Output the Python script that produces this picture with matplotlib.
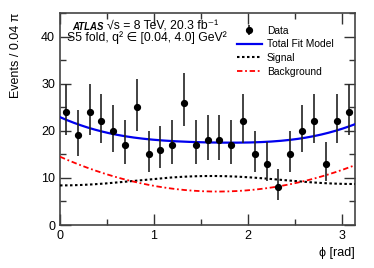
import numpy as np
import matplotlib
matplotlib.use("Agg")
import matplotlib.pyplot as plt
from matplotlib.ticker import MultipleLocator

plt.rcParams['font.family'] = ['Liberation Sans', 'DejaVu Sans']

# ---- data ----
n_bins = 25
counts = [24, 19, 24, 22, 20, 17, 25, 15, 16, 17, 26, 17, 18,
          18, 17, 22, 15, 13, 8, 15, 20, 22, 13, 22, 24]

# fit model parameters
sig_coef = [9.475, -0.15, -0.925]      # s0 + s1 cos(phi) + s2 cos(2 phi)
bkg_vertex = [1.68, 7.1, 2.62]          # phi_min, b_min, curvature

edges = np.linspace(0, np.pi, n_bins + 1)
centers = 0.5 * (edges[:-1] + edges[1:])
counts = np.array(counts, dtype=float)

# Garwood (Poisson 68%) intervals via Wilson-Hilferty chi2 approximation
def chi2_q(k, z):
    return k * (1 - 2 / (9 * k) + z * np.sqrt(2 / (9 * k))) ** 3
z = 1.0
hi = 0.5 * chi2_q(2 * counts + 2, z) - counts
lo = counts - 0.5 * chi2_q(2 * counts, -z)

phi = np.linspace(0, np.pi, 300)
signal = sig_coef[0] + sig_coef[1] * np.cos(phi) + sig_coef[2] * np.cos(2 * phi)
background = bkg_vertex[1] + bkg_vertex[2] * (phi - bkg_vertex[0]) ** 2
total = signal + background

fig = plt.figure(figsize=(3.74, 2.68), dpi=100)
ax = fig.add_axes([60/374, 1-225/268, 295/374, 212/268])

h_data = ax.errorbar(centers, counts, yerr=[lo, hi], fmt='o', color='black', ecolor='#222222',
                     markersize=4.2, elinewidth=1.2, capsize=0, label='Data', zorder=5)
h_tot, = ax.plot(phi, total, color='#0000ee', lw=1.6, label='Total Fit Model', zorder=4)
h_sig, = ax.plot(phi, signal, color='black', lw=1.5, ls=(0, (1.2, 1.2)), label='Signal', zorder=3)
h_bkg, = ax.plot(phi, background, color='#ff0000', lw=1.3, ls=(0, (3, 1.5, 1, 1.5)),
                 label='Background', zorder=3)

ax.set_xlim(0, np.pi)
ax.set_ylim(0, 45)
ax.xaxis.set_major_locator(MultipleLocator(1))
ax.xaxis.set_minor_locator(MultipleLocator(0.5))
ax.yaxis.set_major_locator(MultipleLocator(10))
ax.yaxis.set_minor_locator(MultipleLocator(5))
ax.tick_params(which='both', direction='in', top=True, right=True, labelsize=9,
               color='#333333')
ax.tick_params(which='major', length=8, width=1)
ax.tick_params(which='minor', length=4, width=1)
for s in ax.spines.values():
    s.set_color('#444444')
    s.set_linewidth(1.2)

ax.set_xlabel('ϕ [rad]', fontsize=9, loc='right')
ax.set_ylabel('Events / 0.04 π', fontsize=9, loc='top')
ax.yaxis.set_label_coords((22 - 60) / 295, 1.0)

fam = ['Liberation Sans', 'DejaVu Sans']
fig.text(72/374, 1-29.5/268, 'ATLAS', fontsize=6.9, fontweight='bold', fontstyle='italic',
         va='baseline', family=fam)
fig.text(107/374, 1-29.5/268, '√s = 8 TeV, 20.3 fb⁻¹', fontsize=8.8, va='baseline', family=fam)
fig.text(67/374, 1-41.5/268, 'S5 fold, q² ∈ [0.04, 4.0] GeV²', fontsize=8.8, va='baseline', family=fam)

leg = ax.legend([h_data, h_tot, h_sig, h_bkg], ['Data', 'Total Fit Model', 'Signal', 'Background'],
                loc='upper left', bbox_to_anchor=(237/374, 1-25.5/268),
                bbox_transform=fig.transFigure, frameon=False,
                fontsize=7.4, handlelength=2.4, handletextpad=0.5, labelspacing=0.36,
                borderpad=0, borderaxespad=0)

fig.savefig('out.png', dpi=100)
